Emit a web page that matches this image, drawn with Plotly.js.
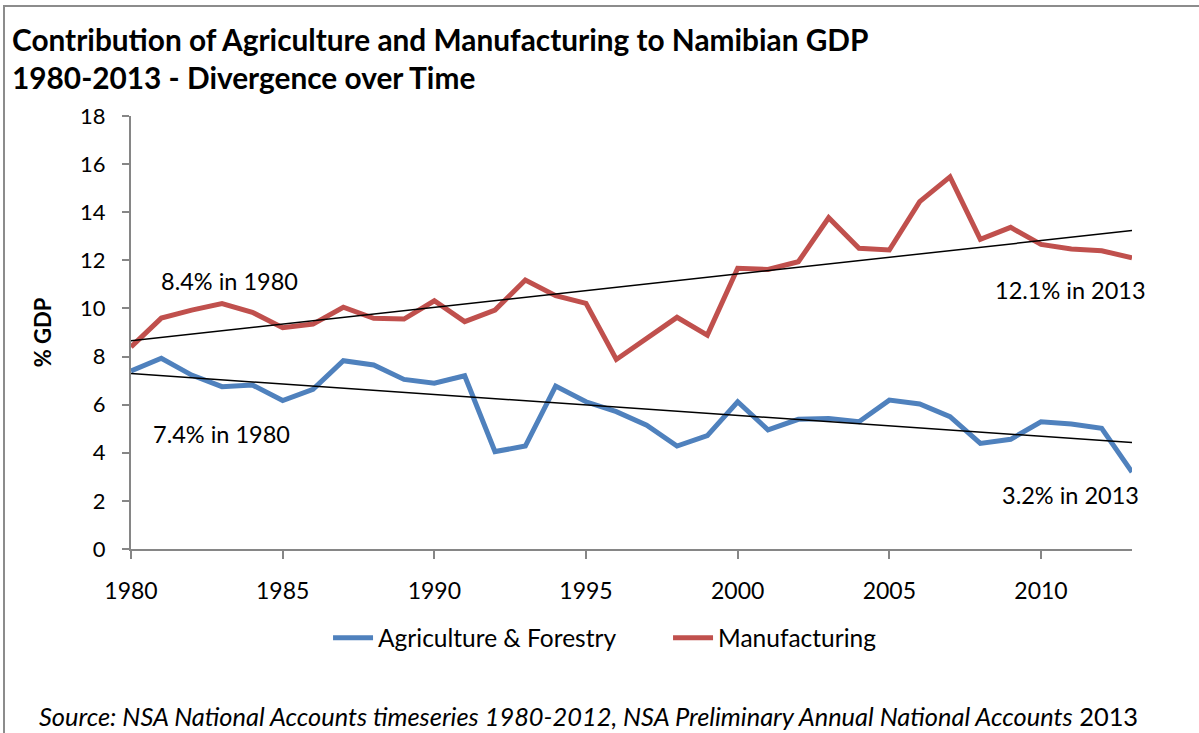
<!DOCTYPE html>
<html>
<head>
<meta charset="utf-8">
<script src="https://cdn.plot.ly/plotly-3.0.1.min.js"></script>
<style>
  html, body { margin: 0; padding: 0; background: #ffffff; }
  #wrap { position: relative; width: 1199px; height: 733px; overflow: hidden; }
  #frame { position: absolute; left: 3px; top: 5px; width: 1210px; height: 800px;
           border: 2px solid #8c8c8c; box-sizing: border-box; pointer-events: none; }
  #chart { position: absolute; left: 0; top: 0; width: 1199px; height: 733px; }
</style>
</head>
<body>
<div id="wrap">
  <div id="chart"></div>
  <div id="frame"></div>
</div>
<script>
const years = [1980,1981,1982,1983,1984,1985,1986,1987,1988,1989,1990,1991,1992,1993,1994,1995,1996,
               1997,1998,1999,2000,2001,2002,2003,2004,2005,2006,2007,2008,2009,2010,2011,2012,2013];
const agriculture = [7.4,7.93,7.23,6.75,6.82,6.17,6.64,7.83,7.65,7.05,6.89,7.2,4.05,4.28,6.77,6.12,5.71,
                     5.15,4.28,4.71,6.12,4.95,5.39,5.43,5.29,6.19,6.03,5.5,4.39,4.56,5.29,5.2,5.02,3.2];
const manufacturing = [8.4,9.6,9.93,10.2,9.84,9.2,9.35,10.05,9.59,9.56,10.32,9.45,9.93,11.18,10.53,10.21,7.88,
                       8.76,9.63,8.89,11.67,11.62,11.94,13.77,12.5,12.43,14.44,15.47,12.87,13.37,12.66,12.47,12.4,12.1];
const seriesNames = ["Agriculture & Forestry", "Manufacturing"];
const xTicks = [1980,1985,1990,1995,2000,2005,2010];
const yTicks = [0,2,4,6,8,10,12,14,16,18];
const titleLines = ["Contribution of Agriculture and Manufacturing to Namibian GDP",
                    "1980-2013 - Divergence over Time"];
const labels = [
  {text: "8.4% in 1980", year: 1980, value: 8.4},
  {text: "7.4% in 1980", year: 1980, value: 7.4},
  {text: "12.1% in 2013", year: 2013, value: 12.1},
  {text: "3.2% in 2013", year: 2013, value: 3.2}
];

function linfit(xs, ys) {
  const n = xs.length;
  let sx = 0, sy = 0, sxx = 0, sxy = 0;
  for (let i = 0; i < n; i++) { sx += xs[i]; sy += ys[i]; sxx += xs[i]*xs[i]; sxy += xs[i]*ys[i]; }
  const b = (n*sxy - sx*sy) / (n*sxx - sx*sx);
  const a = (sy - b*sx) / n;
  return xs.map(x => a + b*x);
}

const FONT = "Lato, 'Open Sans', sans-serif";

const traces = [
  {x: years, y: agriculture, name: seriesNames[0], type: "scatter", mode: "lines",
   line: {color: "#4F81BD", width: 5}},
  {x: years, y: manufacturing, name: seriesNames[1], type: "scatter", mode: "lines",
   line: {color: "#C0504D", width: 5}},
  {x: years, y: linfit(years, manufacturing), type: "scatter", mode: "lines", showlegend: false,
   hoverinfo: "skip", line: {color: "#000000", width: 1.5}},
  {x: years, y: linfit(years, agriculture), type: "scatter", mode: "lines", showlegend: false,
   hoverinfo: "skip", line: {color: "#000000", width: 1.5}}
];

const shifts = [[98, 66], [90, -63], [-62, -32], [-62, -23]];
const annots = labels.map((l, i) => ({
  text: l.text, x: l.year, y: l.value, xref: "x", yref: "y",
  xanchor: "center", yanchor: "middle", xshift: shifts[i][0], yshift: shifts[i][1],
  showarrow: false, font: {family: FONT, size: 23.5, color: "#000"}
}));
annots.push(
  {text: "<b>" + titleLines[0] + "</b>", xref: "paper", yref: "paper",
   x: -0.1209, y: 1.176, xanchor: "left", yanchor: "middle", showarrow: false,
   font: {family: FONT, size: 29.8, color: "#000"}},
  {text: "<b>" + titleLines[1] + "</b>", xref: "paper", yref: "paper",
   x: -0.1209, y: 1.0885, xanchor: "left", yanchor: "middle", showarrow: false,
   font: {family: FONT, size: 29.8, color: "#000"}},
  {text: "<i>Source: NSA National Accounts timeseries 1980-2012, NSA Preliminary Annual National Accounts</i> 2013",
   xref: "paper", yref: "paper", x: -0.0939, y: -0.3857, xanchor: "left", yanchor: "middle",
   showarrow: false, font: {family: FONT, size: 25.4, color: "#000"}}
);

const layout = {
  width: 1199, height: 733,
  paper_bgcolor: "rgba(0,0,0,0)", plot_bgcolor: "rgba(0,0,0,0)",
  margin: {l: 131, r: 67, t: 116, b: 184},
  font: {family: FONT, color: "#000"},
  xaxis: {
    range: [1980, 2013], tickvals: xTicks, ticktext: xTicks.map(String),
    showgrid: false, zeroline: false, showline: true, linecolor: "#868686", linewidth: 2,
    ticks: "outside", ticklen: 8, tickcolor: "#868686", tickwidth: 2, ticklabelstandoff: 12,
    tickfont: {family: FONT, size: 23, color: "#000"}, fixedrange: true
  },
  yaxis: {
    range: [0, 18], tickvals: yTicks, ticktext: yTicks.map(String),
    showgrid: false, zeroline: false, showline: true, linecolor: "#868686", linewidth: 2,
    ticks: "outside", ticklen: 7, tickcolor: "#868686", tickwidth: 2, ticklabelstandoff: 12,
    tickfont: {family: FONT, size: 22, color: "#000"},
    title: {text: "<b>% GDP</b>", font: {family: FONT, size: 22, color: "#000"}, standoff: 22},
    fixedrange: true
  },
  legend: {
    orientation: "h", x: 0.5365, xanchor: "center", y: -0.205, yanchor: "middle",
    font: {family: FONT, size: 24.5, color: "#000"}, bgcolor: "rgba(0,0,0,0)",
    itemwidth: 40, tracegroupgap: 0, entrywidth: 285, entrywidthmode: "pixels"
  },
  annotations: annots,
  showlegend: true
};

Plotly.newPlot("chart", traces, layout, {displayModeBar: false, staticPlot: true});
</script>
</body>
</html>
